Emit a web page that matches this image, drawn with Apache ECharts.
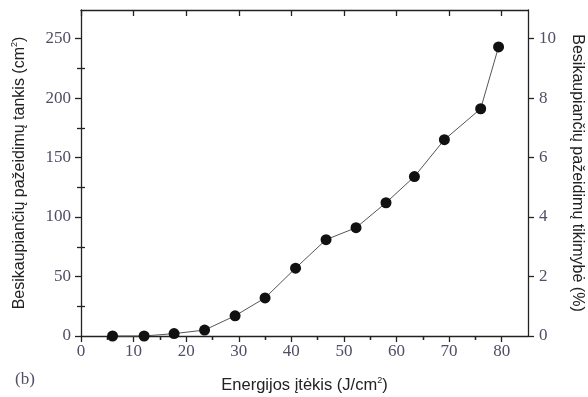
<!DOCTYPE html>
<html>
<head>
<meta charset="utf-8">
<script src="https://cdn.jsdelivr.net/npm/echarts@6/dist/echarts.min.js"></script>
<style>html,body{margin:0;padding:0;background:#fff}#c{width:588px;height:397px}</style>
</head>
<body>
<div id="c"></div>
<script>
// Data
var fluence = [6, 12, 17.7, 23.5, 29.3, 35, 40.8, 46.6, 52.3, 58, 63.4, 69.1, 76, 79.4];
var density = [0, 0, 2, 5, 17, 32, 57, 81, 91, 112, 134, 165, 191, 243];

// Tick values
var xMajor = [0, 10, 20, 30, 40, 50, 60, 70, 80];
var xMinor = [5, 15, 25, 35, 45, 55, 65, 75];
var yLeftMajor = [0, 50, 100, 150, 200, 250];
var yLeftMinor = [25, 75, 125, 175, 225];
var yRightMajor = [0, 2, 4, 6, 8, 10];
var yRightMinor = [1, 3, 5, 7, 9];

var xMax = 85, yLeftMax = 274, yRightMax = 274 / 25;

var serif = 'Liberation Serif';
var sans = 'Liberation Sans';
var tickColor = '#4f4f66';
var lineCol = '#222';

function axisBase(extra) {
  return Object.assign({
    type: 'value',
    splitLine: { show: false },
    axisLine: { show: false, lineStyle: { color: lineCol, width: 1.3 } },
    axisTick: { show: false },
    axisLabel: { show: false }
  }, extra);
}

var pts = fluence.map(function (x, i) { return [x, density[i]]; });

var chart = echarts.init(document.getElementById('c'));
chart.setOption({
  animation: false,
  grid: { left: 81, right: 60, top: 10, bottom: 61, outerBoundsMode: 'none', containLabel: false },
  xAxis: [
    axisBase({
      position: 'bottom', min: 0, max: xMax,
      axisLine: { show: true, onZero: false, lineStyle: { color: lineCol, width: 1.3 } },
      axisTick: { show: true, customValues: xMajor, length: 6, lineStyle: { color: lineCol, width: 1.3 } },
      axisLabel: { show: true, customValues: xMajor, margin: 7, fontFamily: serif, fontSize: 17, color: tickColor },
      name: 'Energijos įtėkis (J/cm{sup|2})',
      nameLocation: 'middle', nameGap: 40,
      nameTextStyle: { fontFamily: sans, fontSize: 16.5, color: '#222', lineHeight: 19,
        rich: { sup: { fontFamily: sans, fontSize: 9, color: '#222', verticalAlign: 'top', lineHeight: 19 } } }
    }),
    axisBase({
      position: 'bottom', min: 0, max: xMax,
      axisTick: { show: true, customValues: xMinor, length: 4, lineStyle: { color: lineCol, width: 1.3 } }
    }),
    axisBase({
      position: 'top', min: 0, max: xMax,
      axisLine: { show: true, onZero: false, lineStyle: { color: lineCol, width: 1.3 } },
      axisTick: { show: true, inside: true, customValues: xMajor, length: 6, lineStyle: { color: lineCol, width: 1.3 } }
    }),
    axisBase({
      position: 'top', min: 0, max: xMax,
      axisTick: { show: true, inside: true, customValues: xMinor, length: 4, lineStyle: { color: lineCol, width: 1.3 } }
    })
  ],
  yAxis: [
    axisBase({
      position: 'left', min: 0, max: yLeftMax,
      axisLine: { show: true, onZero: false, lineStyle: { color: lineCol, width: 1.3 } },
      axisTick: { show: true, customValues: yLeftMajor, length: 6, lineStyle: { color: lineCol, width: 1.3 } },
      axisLabel: { show: true, customValues: yLeftMajor, margin: 10, fontFamily: serif, fontSize: 17, color: tickColor },
      name: 'Besikaupiančių pažeidimų tankis (cm{sup|2})',
      nameLocation: 'middle', nameGap: 52, nameRotate: 90,
      nameTextStyle: { fontFamily: sans, fontSize: 16, color: '#222', lineHeight: 19,
        rich: { sup: { fontFamily: sans, fontSize: 9, color: '#222', verticalAlign: 'top', lineHeight: 19 } } }
    }),
    axisBase({
      position: 'left', min: 0, max: yLeftMax,
      axisTick: { show: true, customValues: yLeftMinor, length: 4, lineStyle: { color: lineCol, width: 1.3 } }
    }),
    axisBase({
      position: 'right', min: 0, max: yRightMax,
      axisLine: { show: true, onZero: false, lineStyle: { color: lineCol, width: 1.3 } },
      axisTick: { show: true, customValues: yRightMajor, length: 6, lineStyle: { color: lineCol, width: 1.3 } },
      axisLabel: { show: true, customValues: yRightMajor, margin: 11, fontFamily: serif, fontSize: 17, color: tickColor },
      name: 'Besikaupiančių pažeidimų tikimybė (%)',
      nameLocation: 'middle', nameGap: 41, nameRotate: -90,
      nameTextStyle: { fontFamily: sans, fontSize: 16, color: '#222' }
    }),
    axisBase({
      position: 'right', min: 0, max: yRightMax,
      axisTick: { show: true, customValues: yRightMinor, length: 4, lineStyle: { color: lineCol, width: 1.3 } }
    })
  ],
  graphic: [{
    type: 'text', left: 15, top: 371,
    style: { text: '(b)', font: '17px "Liberation Serif"', fill: tickColor }
  }],
  series: [{
    type: 'line',
    xAxisIndex: 0, yAxisIndex: 0,
    data: pts,
    symbol: 'circle', symbolSize: 11,
    itemStyle: { color: '#111' },
    lineStyle: { color: '#555', width: 1 },
    clip: false
  }]
});
</script>
</body>
</html>
